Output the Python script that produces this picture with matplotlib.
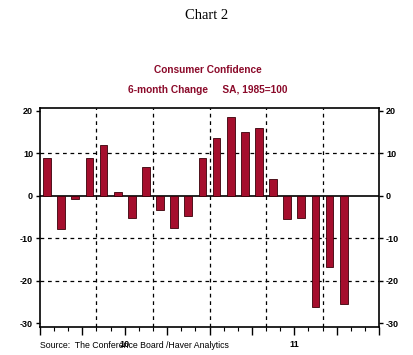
import matplotlib
matplotlib.use('Agg')
import matplotlib.pyplot as plt
import numpy as np

# Consumer Confidence, 6-month change, Jan 2010 - Oct 2011
months = list(range(22))
values = [9.0, -7.7, -0.8, 9.0, 12.0, 0.9, -5.2, 6.9, -3.3, -7.5, -4.7, 9.0,
          13.7, 18.5, 15.0, 16.0, 3.9, -5.4, -5.2, -26.1, -16.8, -25.4]
yticks = [20, 10, 0, -10, -20, -30]
year_labels = ['10', '11']
year_pos = [5.5, 17.5]
vgrid = [3.5, 7.5, 11.5, 15.5, 19.5]

maroon = '#8B0A2A'
barcol = '#A50E2D'

fig = plt.figure(figsize=(4.14, 3.55), dpi=100)
ax = fig.add_axes([0.0966, 0.0789, 0.8189, 0.6169])

ax.bar(months, values, width=0.55, color=barcol, edgecolor='#3a0008', linewidth=0.6, zorder=3)
ax.axhline(0, color='black', linewidth=1.2, zorder=2)

ax.set_xlim(-0.5, 23.5)
ax.set_ylim(-30.9, 20.7)

for v in vgrid:
    ax.axvline(v, color='black', linestyle=(0, (3, 3)), linewidth=0.9, zorder=1)
for h in [10, -10, -20]:
    ax.axhline(h, color='black', linestyle=(0, (3, 3)), linewidth=0.9, zorder=1)

for s in ax.spines.values():
    s.set_linewidth(1.2)

ax.set_yticks(yticks)
ax.set_yticklabels([str(t) for t in yticks], fontsize=6.5, fontweight='bold', family='Liberation Sans')
ax.tick_params(axis='y', which='both', left=True, right=True, labelleft=True, labelright=True,
               direction='out', length=3, width=1, pad=2)

ax.set_xticks(np.arange(-0.5, 24, 3))
ax.set_xticks(np.arange(-0.5, 24, 1), minor=True)
ax.set_xticklabels([])
ax.tick_params(axis='x', which='major', direction='out', length=6, width=1)
ax.tick_params(axis='x', which='minor', direction='out', length=3, width=0.8)
for lab, p in zip(year_labels, year_pos):
    ax.text(p, -34.0, lab, ha='center', va='top', fontsize=6.5, fontweight='bold', family='Liberation Sans')

fig.text(0.5, 0.955, 'Chart 2', ha='center', va='center', fontsize=10.5, family='Liberation Serif')
fig.text(0.502, 0.803, 'Consumer Confidence', ha='center', va='center', fontsize=7.3,
         fontweight='bold', color=maroon, family='Liberation Sans')
fig.text(0.502, 0.746, '6-month Change     SA, 1985=100', ha='center', va='center', fontsize=7.3,
         fontweight='bold', color=maroon, family='Liberation Sans')
fig.text(0.097, 0.028, 'Source:  The Conference Board /Haver Analytics', ha='left', va='center',
         fontsize=6.3, family='Liberation Sans')

fig.savefig('out.png', dpi=100)
